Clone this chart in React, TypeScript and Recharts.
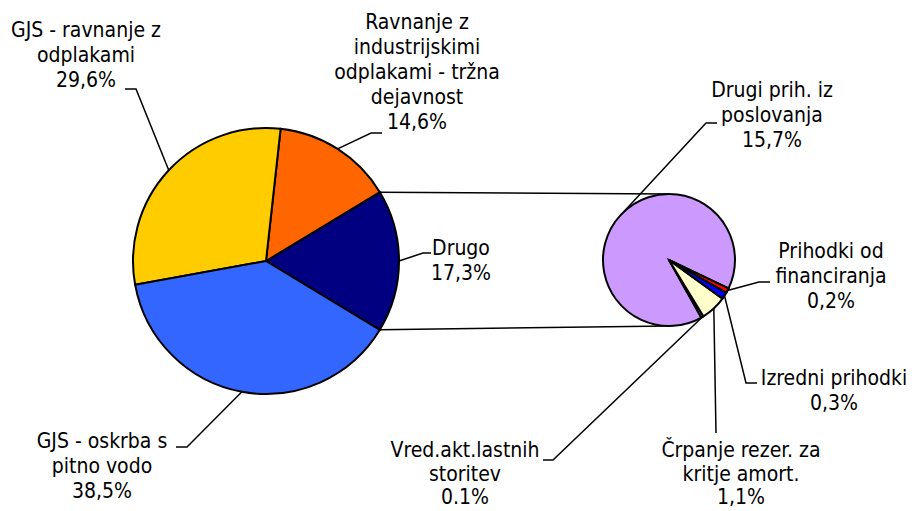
import React from "react";
import { Pie, PieChart, Cell } from "recharts";

// main pie (Drugo is split out into the second pie)
const mainNames = [
  "Drugo",
  "Ravnanje z\nindustrijskimi\nodplakami - tržna\ndejavnost",
  "GJS - ravnanje z\nodplakami",
  "GJS - oskrba s\npitno vodo",
];
const mainValues = [17.3, 14.6, 29.6, 38.5];
const mainLabels = ["17,3%", "14,6%", "29,6%", "38,5%"];
const mainColors = ["#000080", "#FF6600", "#FFCC00", "#3366FF"];

// breakdown of "Drugo"
const subNames = [
  "Drugi prih. iz\nposlovanja",
  "Vred.akt.lastnih\nstoritev",
  "Črpanje rezer. za\nkritje amort.",
  "Izredni prihodki",
  "Prihodki od\nfinanciranja",
];
const subValues = [15.7, 0.1, 1.1, 0.3, 0.2];
const subLabels = ["15,7%", "0.1%", "1,1%", "0,3%", "0,2%"];
const subColors = ["#CC99FF", "#CCFFFF", "#FFFFCC", "#0000FF", "#FF0000"];

const MAIN = { cx: 266, cy: 261, r: 133 };
const SUB = { cx: 669, cy: 260, r: 66 };
const SUB_START = -25.5;
const FONT = "'DejaVu Sans Condensed', 'DejaVu Sans', sans-serif";

// label text centre / first baseline / line height, and the short horizontal stub of the leader
const mainLayout = [
  { x: 461, y: 255, lh: 25, sx1: 431, sx2: 423, sy: 253 },
  { x: 417, y: 29, lh: 25, sx1: 382, sx2: 371, sy: 133 },
  { x: 86, y: 37, lh: 25, sx1: 125, sx2: 136, sy: 89 },
  { x: 102, y: 448, lh: 25, sx1: 176, sx2: 187, sy: 447 },
];
const subLayout = [
  { x: 772, y: 97, lh: 25, sx1: 717, sx2: 706, sy: 123 },
  { x: 465, y: 457, lh: 23.5, sx1: 543, sx2: 553, sy: 460 },
  { x: 741, y: 457, lh: 23.5, sx1: 716, sx2: 716, sy: 433 },
  { x: 834, y: 385, lh: 25, sx1: 757, sx2: 746, sy: 383 },
  { x: 831, y: 258, lh: 25, sx1: 770, sx2: 759, sy: 282 },
];

const RAD = Math.PI / 180;
const polar = (cx: number, cy: number, r: number, a: number) => ({
  x: cx + r * Math.cos(-a * RAD),
  y: cy + r * Math.sin(-a * RAD),
});

function makeLabel(names: string[], pcts: string[], layout: any[], connectors: boolean) {
  return (props: any) => {
    const { cx, cy, midAngle, outerRadius, index, startAngle, endAngle } = props;
    const L = layout[index];
    const edge = polar(cx, cy, outerRadius, midAngle);
    const lines = [...names[index].split("\n"), pcts[index]];
    let conn = null;
    if (connectors && index === 0) {
      const a = polar(cx, cy, outerRadius, endAngle);
      const b = polar(cx, cy, outerRadius, startAngle);
      conn = (
        <g stroke="#000" strokeWidth={1.5}>
          <line x1={a.x} y1={a.y} x2={SUB.cx} y2={SUB.cy - SUB.r} />
          <line x1={b.x} y1={b.y} x2={SUB.cx} y2={SUB.cy + SUB.r} />
        </g>
      );
    }
    return (
      <g key={"lbl" + index}>
        {conn}
        <polyline
          points={`${L.sx1},${L.sy} ${L.sx2},${L.sy} ${edge.x},${edge.y}`}
          fill="none"
          stroke="#000"
          strokeWidth={1.5}
        />
        <text x={L.x} y={L.y} textAnchor="middle" fontFamily={FONT} fontSize={21} fill="#000">
          {lines.map((t, i) => (
            <tspan key={i} x={L.x} dy={i === 0 ? 0 : L.lh}>
              {t}
            </tspan>
          ))}
        </text>
      </g>
    );
  };
}

export default function App() {
  const mainData = mainNames.map((name, i) => ({ name, value: mainValues[i] }));
  const subData = subNames.map((name, i) => ({ name, value: subValues[i] }));
  const mainTotal = mainValues.reduce((s, v) => s + v, 0);
  const mainStart = -(mainValues[0] / mainTotal) * 180;

  return (
    <div style={{ position: "absolute", left: 0, top: 0, width: 912, height: 511, background: "#fff" }}>
      <PieChart width={912} height={511} margin={{ top: 0, right: 0, bottom: 0, left: 0 }}>
        <Pie
          data={mainData}
          dataKey="value"
          cx={MAIN.cx}
          cy={MAIN.cy}
          outerRadius={MAIN.r}
          startAngle={mainStart}
          endAngle={mainStart + 360}
          stroke="#000"
          strokeWidth={2}
          labelLine={false}
          label={makeLabel(mainNames, mainLabels, mainLayout, true)}
          isAnimationActive={false}
        >
          {mainData.map((d, i) => (
            <Cell key={d.name} fill={mainColors[i]} />
          ))}
        </Pie>
        <Pie
          data={subData}
          dataKey="value"
          cx={SUB.cx}
          cy={SUB.cy}
          outerRadius={SUB.r}
          startAngle={SUB_START}
          endAngle={SUB_START + 360}
          stroke="#000"
          strokeWidth={2}
          labelLine={false}
          label={makeLabel(subNames, subLabels, subLayout, false)}
          isAnimationActive={false}
        >
          {subData.map((d, i) => (
            <Cell key={d.name} fill={subColors[i]} />
          ))}
        </Pie>
      </PieChart>
    </div>
  );
}
